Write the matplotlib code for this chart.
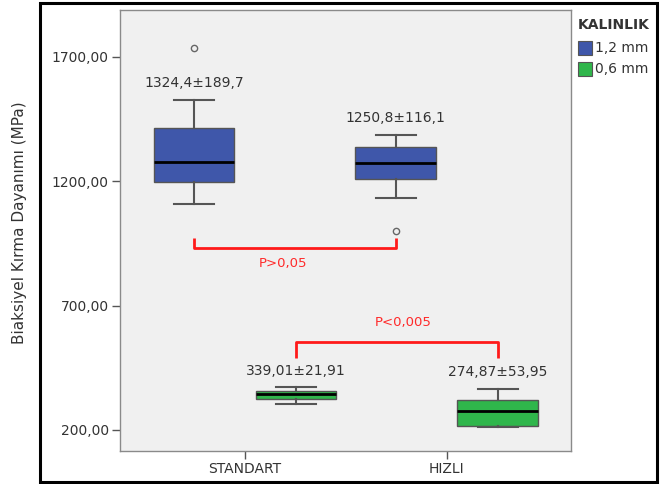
import matplotlib
matplotlib.use("Agg")
import matplotlib.pyplot as plt
from matplotlib.patches import Rectangle

# veriler
categories = ["STANDART", "HIZLI"]
groups = ["1,2 mm", "0,6 mm"]
group_colors = ["#3f57aa", "#2fb64b"]

# her grup icin: [STANDART, HIZLI]
whislo = {"1,2 mm": [1110, 1134], "0,6 mm": [303, 211]}
q1 = {"1,2 mm": [1197, 1209], "0,6 mm": [326, 217]}
med = {"1,2 mm": [1276, 1272], "0,6 mm": [343, 275]}
q3 = {"1,2 mm": [1412, 1336], "0,6 mm": [356, 320]}
whishi = {"1,2 mm": [1525, 1384], "0,6 mm": [371, 366]}
fliers = {"1,2 mm": [[1736], [1000]], "0,6 mm": [[], []]}
labels = {"1,2 mm": ["1324,4±189,7", "1250,8±116,1"],
          "0,6 mm": ["339,01±21,91", "274,87±53,95"]}

p_texts = ["P>0,05", "P<0,005"]
bracket_ends = [972, 488]     # braket uclari
bracket_mid = [932, 555]      # yatay cizgi

yticks = [200, 700, 1200, 1700]
ytick_labels = ["200,00", "700,00", "1200,00", "1700,00"]

fig = plt.figure(figsize=(6.65, 4.84), dpi=100, facecolor="white")
ax = fig.add_axes([120 / 665, 1 - 451 / 484, 451 / 665, 441 / 484])
ax.set_facecolor("#f0f0f0")

offsets = [-0.253, 0.253]
box_w = 0.40
text_color = "#333333"

for gi, g in enumerate(groups):
    stats = []
    for ci in range(len(categories)):
        stats.append(dict(med=med[g][ci], q1=q1[g][ci], q3=q3[g][ci],
                          whislo=whislo[g][ci], whishi=whishi[g][ci],
                          fliers=fliers[g][ci]))
    pos = [ci + offsets[gi] for ci in range(len(categories))]
    ax.bxp(stats, positions=pos, widths=box_w, patch_artist=True,
           showfliers=True, capwidths=0.2,
           boxprops=dict(facecolor=group_colors[gi], edgecolor="#555555", linewidth=1),
           medianprops=dict(color="black", linewidth=2),
           whiskerprops=dict(color="#555555", linewidth=1.5),
           capprops=dict(color="#555555", linewidth=1.5),
           flierprops=dict(marker="o", markersize=4.5, markerfacecolor="none",
                           markeredgecolor="#666666", markeredgewidth=1))
    for ci in range(len(categories)):
        ax.text(pos[ci], whishi[g][ci] + 68, labels[g][ci], ha="center", va="center",
                fontsize=10, color=text_color)

# p degeri braketleri
for gi, g in enumerate(groups):
    x0, x1 = 0 + offsets[gi], 1 + offsets[gi]
    ye, ym = bracket_ends[gi], bracket_mid[gi]
    ax.plot([x0, x0, x1, x1], [ye, ym, ym, ye], color="#ff1a1a", linewidth=2,
            solid_joinstyle="round", solid_capstyle="butt")
    if gi == 0:
        ax.text((x0 + x1) / 2 - 0.06, ym - 65, p_texts[gi], ha="center", va="center",
                fontsize=9.5, color="#ff2a2a")
    else:
        ax.text((x0 + x1) / 2 + 0.03, ym + 75, p_texts[gi], ha="center", va="center",
                fontsize=9.5, color="#ff2a2a")

ax.set_xlim(-0.62, 1.616)
ax.set_ylim(115.6, 1887.6)
ax.set_xticks(range(len(categories)))
ax.set_xticklabels(categories, fontsize=10, color=text_color)
ax.set_yticks(yticks)
ax.set_yticklabels(ytick_labels, fontsize=10, color=text_color)
ax.tick_params(axis="both", color="#555555", length=6, width=1, pad=2)
for s in ax.spines.values():
    s.set_color("#8a8a8a")
    s.set_linewidth(1)

# y ekseni basligi (cercevenin disinda)
fig.text(20 / 665, 1 - 223 / 484, "Biaksiyel Kırma Dayanımı (MPa)", rotation=90,
         ha="center", va="center", fontsize=11, color=text_color)

# dis cerceve
fig.patches.append(Rectangle((40 / 665, 2 / 484), 617 / 665, 479 / 484,
                             transform=fig.transFigure, fill=False,
                             edgecolor="black", linewidth=2.2))

# lejant
fig.text(578 / 665, 1 - 25 / 484, "KALINLIK", ha="left", va="center",
         fontsize=10, fontweight="bold", color=text_color)
for gi, g in enumerate(groups):
    yc = [48, 69][gi]
    fig.patches.append(Rectangle((578 / 665, 1 - (yc + 7) / 484), 14 / 665, 14 / 484,
                                 transform=fig.transFigure, facecolor=group_colors[gi],
                                 edgecolor="#555555", linewidth=0.8))
    fig.text(595 / 665, 1 - yc / 484, g, ha="left", va="center",
             fontsize=10, color=text_color)

fig.savefig("out.png", dpi=100)
